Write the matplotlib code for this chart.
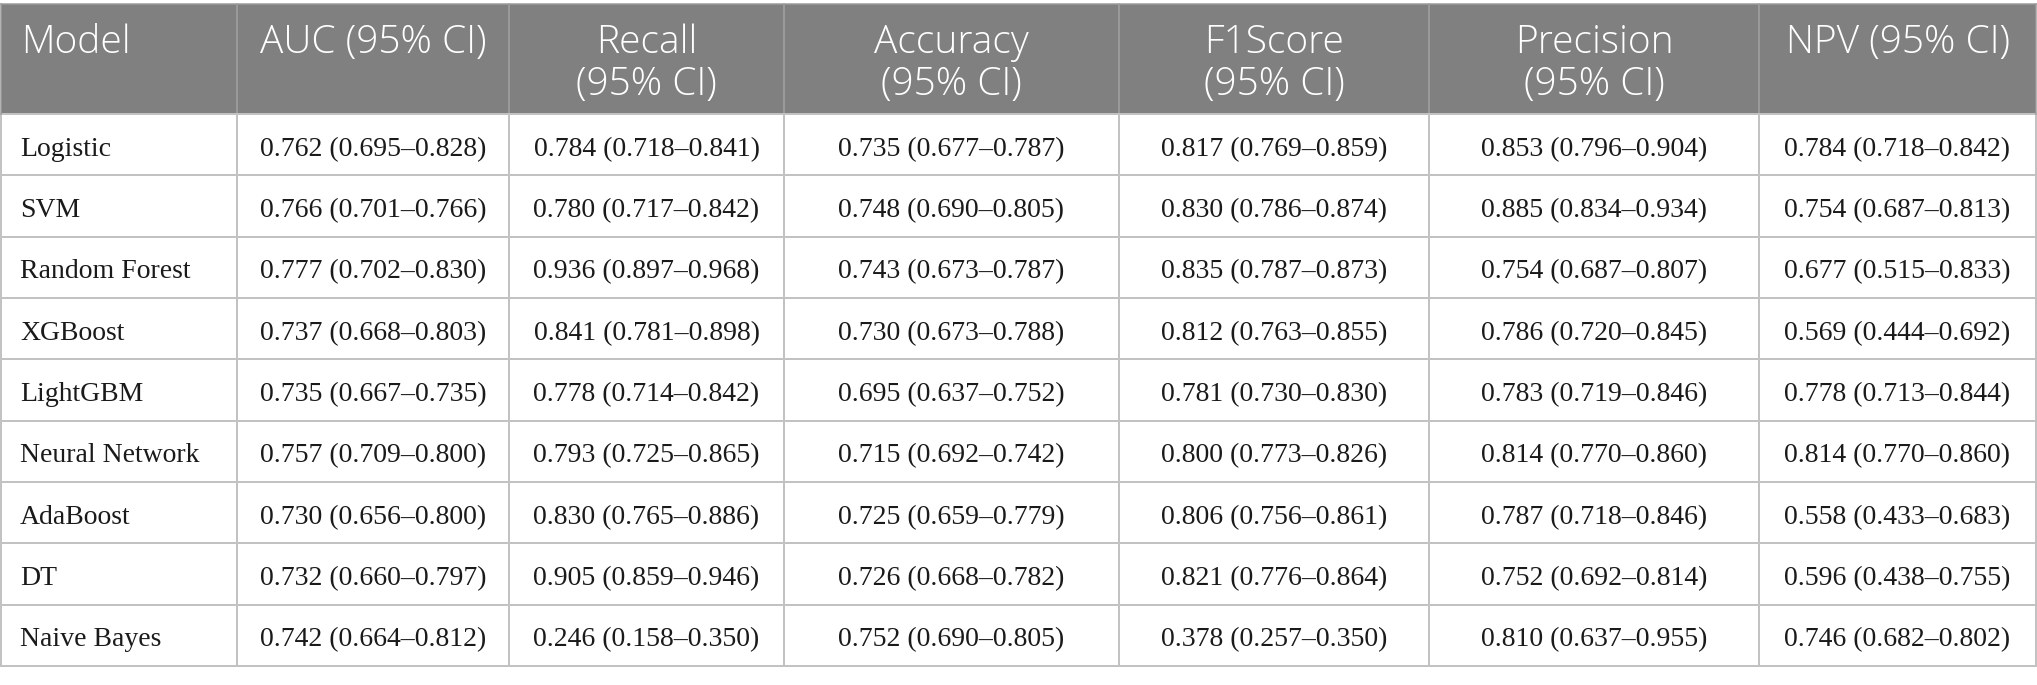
import matplotlib.pyplot as plt
from matplotlib.patches import Rectangle

# table content
models = ["Logistic", "SVM", "Random Forest", "XGBoost", "LightGBM",
          "Neural Network", "AdaBoost", "DT", "Naive Bayes"]
auc = [(0.762, 0.695, 0.828), (0.766, 0.701, 0.766), (0.777, 0.702, 0.830),
       (0.737, 0.668, 0.803), (0.735, 0.667, 0.735), (0.757, 0.709, 0.800),
       (0.730, 0.656, 0.800), (0.732, 0.660, 0.797), (0.742, 0.664, 0.812)]
recall = [(0.784, 0.718, 0.841), (0.780, 0.717, 0.842), (0.936, 0.897, 0.968),
          (0.841, 0.781, 0.898), (0.778, 0.714, 0.842), (0.793, 0.725, 0.865),
          (0.830, 0.765, 0.886), (0.905, 0.859, 0.946), (0.246, 0.158, 0.350)]
accuracy = [(0.735, 0.677, 0.787), (0.748, 0.690, 0.805), (0.743, 0.673, 0.787),
            (0.730, 0.673, 0.788), (0.695, 0.637, 0.752), (0.715, 0.692, 0.742),
            (0.725, 0.659, 0.779), (0.726, 0.668, 0.782), (0.752, 0.690, 0.805)]
f1score = [(0.817, 0.769, 0.859), (0.830, 0.786, 0.874), (0.835, 0.787, 0.873),
           (0.812, 0.763, 0.855), (0.781, 0.730, 0.830), (0.800, 0.773, 0.826),
           (0.806, 0.756, 0.861), (0.821, 0.776, 0.864), (0.378, 0.257, 0.350)]
precision = [(0.853, 0.796, 0.904), (0.885, 0.834, 0.934), (0.754, 0.687, 0.807),
             (0.786, 0.720, 0.845), (0.783, 0.719, 0.846), (0.814, 0.770, 0.860),
             (0.787, 0.718, 0.846), (0.752, 0.692, 0.814), (0.810, 0.637, 0.955)]
npv = [(0.784, 0.718, 0.842), (0.754, 0.687, 0.813), (0.677, 0.515, 0.833),
       (0.569, 0.444, 0.692), (0.778, 0.713, 0.844), (0.814, 0.770, 0.860),
       (0.558, 0.433, 0.683), (0.596, 0.438, 0.755), (0.746, 0.682, 0.802)]
headers = ["Model", "AUC (95% CI)", "Recall\n(95% CI)", "Accuracy\n(95% CI)",
           "F1Score\n(95% CI)", "Precision\n(95% CI)", "NPV (95% CI)"]

# layout in pixels
W, H = 2037, 685
col_edges = [1, 237, 509, 784, 1119, 1429, 1759, 2036]
top, head_bot, bot = 4, 114, 666
row_h = (bot - head_bot) / len(models)
px = 0.72  # one pixel in points at dpi 100

fig = plt.figure(figsize=(W / 100, H / 100), dpi=100)
ax = fig.add_axes([0, 0, 1, 1])
ax.set_xlim(0, W)
ax.set_ylim(H, 0)
ax.axis("off")

grid_c = "#c2c2c2"
ax.add_patch(Rectangle((col_edges[0], top), col_edges[-1] - col_edges[0], head_bot - top,
                       facecolor="#808080", edgecolor="none", zorder=1))

# header separators
for x in col_edges[1:-1]:
    ax.plot([x, x], [top, head_bot], color="#a3a3a3", lw=1.5 * px, zorder=2)
# body grid
for x in col_edges:
    ax.plot([x, x], [head_bot, bot], color=grid_c, lw=2 * px, zorder=2)
for i in range(len(models) + 1):
    y = head_bot + i * row_h
    ax.plot([col_edges[0], col_edges[-1]], [y, y], color=grid_c, lw=2 * px, zorder=2)
ax.plot([col_edges[0], col_edges[-1]], [top, top], color="#9a9a9a", lw=1.5 * px, zorder=2)
ax.plot([col_edges[0], col_edges[0]], [top, head_bot], color="#9a9a9a", lw=1.5 * px, zorder=2)
ax.plot([col_edges[-1], col_edges[-1]], [top, head_bot], color="#9a9a9a", lw=1.5 * px, zorder=2)

head_font = dict(family=["Open Sans", "DejaVu Sans"], fontsize=28, color="white",
                 weight="light", va="baseline", zorder=3)
body_font = dict(family=["Liberation Serif", "DejaVu Serif"], fontsize=20,
                 color="#1a1a1a", va="baseline", zorder=3)

line_base = [53, 95]
for j, h in enumerate(headers):
    for k, line in enumerate(h.split("\n")):
        if j == 0:
            ax.text(col_edges[0] + 20, line_base[k], line, ha="left", **head_font)
        else:
            cx = (col_edges[j] + col_edges[j + 1]) / 2
            ax.text(cx, line_base[k], line, ha="center", **head_font)

metrics = [auc, recall, accuracy, f1score, precision, npv]
for i, m in enumerate(models):
    yb = head_bot + (i + 0.5) * row_h + 11
    ax.text(col_edges[0] + 19, yb, m, ha="left", **body_font)
    for j, met in enumerate(metrics):
        v, lo, hi = met[i]
        cx = (col_edges[j + 1] + col_edges[j + 2]) / 2
        ax.text(cx, yb, f"{v:.3f} ({lo:.3f}\u2013{hi:.3f})", ha="center", **body_font)

fig.savefig("out.png", dpi=100, facecolor="white")
